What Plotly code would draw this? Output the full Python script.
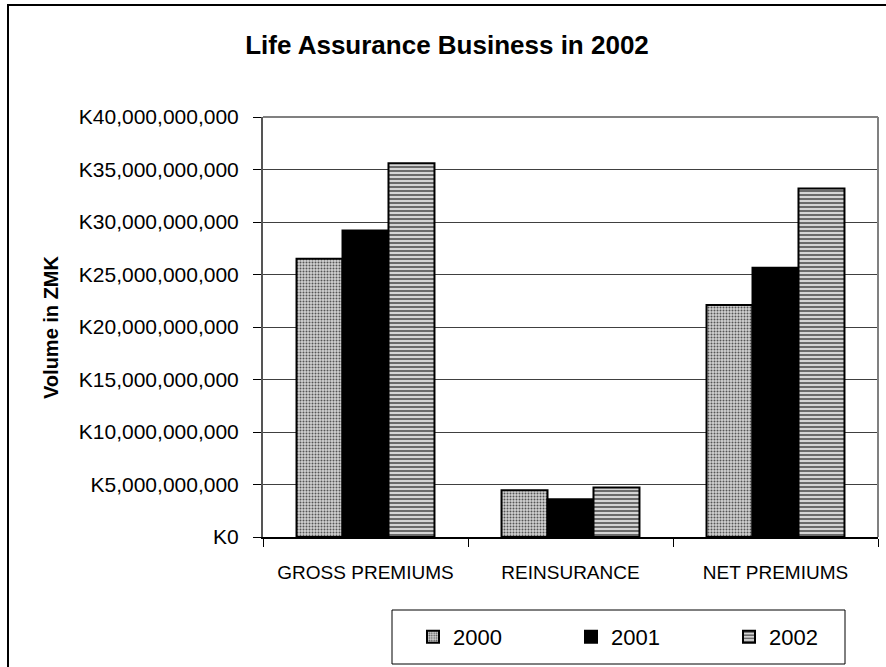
import plotly.graph_objects as go

categories = ["GROSS PREMIUMS", "REINSURANCE", "NET PREMIUMS"]
years = ["2000", "2001", "2002"]
v2000 = [26.5e9, 4.45e9, 22.1e9]
v2001 = [29.2e9, 3.6e9, 25.65e9]
v2002 = [35.6e9, 4.72e9, 33.2e9]
tick_values = [0, 5e9, 10e9, 15e9, 20e9, 25e9, 30e9, 35e9, 40e9]
tick_labels = ["K" + format(int(v), ",") for v in tick_values]

FONT = "Arial, Liberation Sans, sans-serif"

W, H = 886, 667
L, R, T, B = 263, 8, 117, 130
PW = W - L - R
PH = H - T - B


def px(x):
    return (x - L) / PW


def py(y):
    return (H - B - y) / PH


fig = go.Figure()
fig.add_trace(go.Bar(
    name=years[0], x=categories, y=v2000,
    marker=dict(color="white", line=dict(color="black", width=2),
                pattern=dict(shape=".", size=3, solidity=0.35,
                             fgcolor="#555555", bgcolor="#d2d2d2", fillmode="replace")),
))
fig.add_trace(go.Bar(
    name=years[1], x=categories, y=v2001,
    marker=dict(color="black", line=dict(color="black", width=2)),
))
fig.add_trace(go.Bar(
    name=years[2], x=categories, y=v2002,
    marker=dict(color="#d0d0d0", line=dict(color="black", width=2),
                pattern=dict(shape="-", size=4, solidity=0.5,
                             fgcolor="#6a6a6a", bgcolor="#d4d4d4", fillmode="replace")),
))

shapes = [
    # outer chart border
    dict(type="rect", xref="paper", yref="paper",
         x0=px(8), x1=px(W + 10), y0=py(H + 10), y1=py(5),
         line=dict(color="black", width=2), fillcolor="rgba(0,0,0,0)", layer="below"),
    # plot area border (top & right)
    dict(type="line", xref="paper", yref="paper", x0=0, x1=1, y0=1, y1=1,
         line=dict(color="#808080", width=2), layer="above"),
    dict(type="line", xref="paper", yref="paper", x0=1, x1=1, y0=0, y1=1,
         line=dict(color="#808080", width=2), layer="above"),
    # legend box
    dict(type="rect", xref="paper", yref="paper",
         x0=px(392), x1=px(845), y0=py(664), y1=py(610),
         line=dict(color="black", width=1), fillcolor="rgba(0,0,0,0)", layer="above"),
]

fig.update_layout(
    width=W, height=H,
    margin=dict(l=L, r=R, t=T, b=B, pad=0, autoexpand=False),
    paper_bgcolor="white", plot_bgcolor="white",
    font=dict(family=FONT, color="black"),
    barmode="group", bargap=0.327, bargroupgap=0,
    title=dict(text="<b>Life Assurance Business in 2002</b>",
               font=dict(family=FONT, size=26, color="black"),
               x=447 / W, xref="container", xanchor="center",
               y=1 - 45 / H, yref="container", yanchor="middle"),
    showlegend=True,
    legend=dict(orientation="h", xref="container", yref="container",
                x=413 / W, xanchor="left",
                y=1 - 637 / H, yanchor="middle",
                font=dict(family=FONT, size=22, color="black"),
                entrywidth=113, entrywidthmode="pixels",
                bgcolor="rgba(0,0,0,0)", borderwidth=0, traceorder="normal"),
    xaxis=dict(showline=True, linecolor="black", linewidth=1.5,
               ticks="outside", tickson="boundaries", ticklen=8, tickcolor="black", tickwidth=1,
               tickfont=dict(family=FONT, size=19, color="black"),
               ticklabelstandoff=17, showgrid=False, zeroline=False, automargin=False),
    yaxis=dict(range=[0, 40e9], tickvals=tick_values, ticktext=tick_labels,
               showline=True, linecolor="#555555", linewidth=2,
               ticks="outside", ticklen=8, tickcolor="black", tickwidth=1,
               tickfont=dict(family=FONT, size=21, color="black"),
               ticklabelstandoff=10, automargin=False,
               showgrid=True, gridcolor="#404040", gridwidth=1, zeroline=False),
    shapes=shapes,
    annotations=[dict(text="<b>Volume in ZMK</b>", xref="paper", yref="paper",
                      x=px(51), y=py(327), textangle=-90, showarrow=False,
                      xanchor="center", yanchor="middle",
                      font=dict(family=FONT, size=20, color="black"))],
)

fig.write_html("out.html")
